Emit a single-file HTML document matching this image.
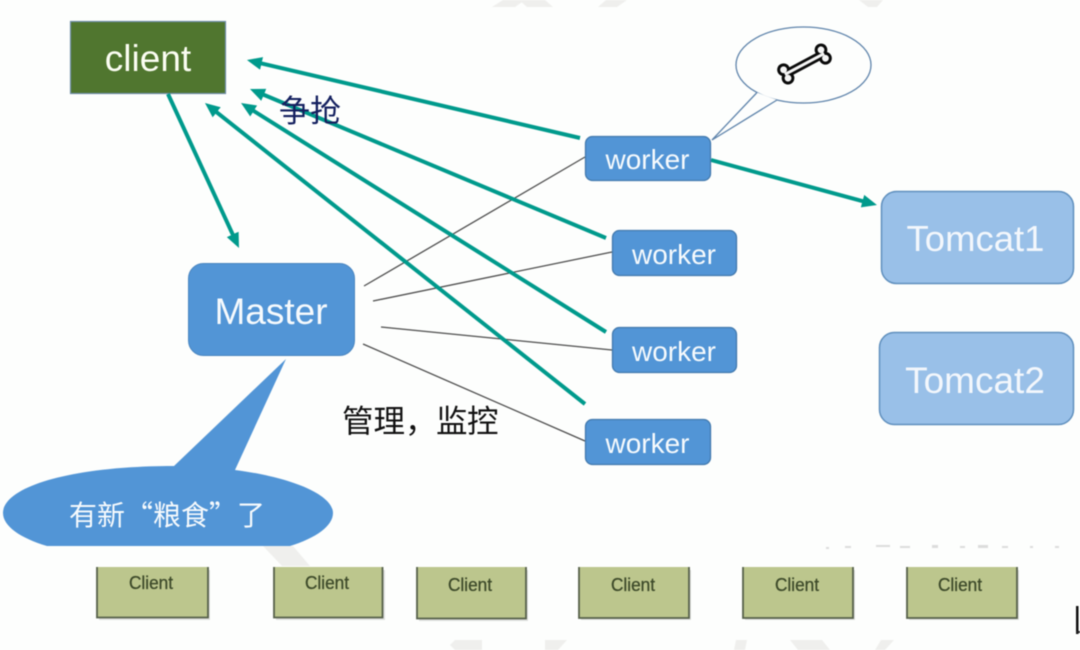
<!DOCTYPE html>
<html><head><meta charset="utf-8"><style>
html,body{margin:0;padding:0;background:#fdfefd;width:1080px;height:650px;overflow:hidden}
svg{display:block}
text{font-family:"Liberation Sans","Noto Sans CJK SC",sans-serif}
text.cjk{font-family:"Noto Sans CJK SC",sans-serif}
</style></head><body>
<svg width="1080" height="650" viewBox="0 0 1080 650" xmlns="http://www.w3.org/2000/svg">
<defs>
<marker id="a" markerUnits="userSpaceOnUse" markerWidth="16" markerHeight="14" refX="5" refY="7" orient="auto"><path d="M0 0.500L15 7L0 13.500z" fill="#009a8c"/></marker>
</defs>
<rect width="1080" height="650" fill="#fdfefd"/>
<g style="filter:blur(.4px)">
<g fill="#efefed">
<path d="M492 7L515 7L525 0L503 0z"/><path d="M527 7L553 7L545 0L519 0z"/>
<path d="M598 7L617 7L627 0L606 0z"/><path d="M868 7L877 7L883 0L859 0z"/>
<path d="M263 546L293 546L310 566L282 566z"/>
<path d="M455 640L482 640L482 650L455 650L450 645z"/>
<path d="M545 640L567 640L558 650L545 650z"/>
<path d="M736 640L747 640L745 650L734 650z"/>
<path d="M790 640L822 640L830 650L798 650z"/>
<path d="M881 640L894 640L885 650L875 650z"/>
</g>
<g stroke="#4d4d4d" stroke-width="1.300" fill="none">
<path d="M364 286L585 157"/><path d="M373 301L612 252"/><path d="M381 327L612 350"/><path d="M363 344L585 441"/>
</g>
<rect x="70.500" y="21.500" width="155" height="72" fill="#50762f" stroke="#6d8da8" stroke-width="1.200"/>
<text x="148" y="71" font-size="37" fill="#fbfdf2" text-anchor="middle">client</text>
<g stroke="#009a8c" stroke-width="4" fill="none" marker-end="url(#a)">
<path d="M168 94L234.800 238.900"/>
<path d="M580 138L256.700 62.300"/>
<path d="M606 238L259.200 92.900"/>
<path d="M606 332L249.500 108.300"/>
<path d="M585 404L212.800 109.200"/>
<path d="M711 160L867.300 202.400"/>
</g>
<rect x="188.500" y="263.500" width="166" height="92" rx="15" fill="#5295d6" stroke="#4a86c0"/>
<text x="271" y="324" font-size="37" fill="#f6fafd" text-anchor="middle">Master</text>
<g fill="#5295d6" stroke="#4279ad" stroke-width="1.300">
<rect x="585.500" y="136.500" width="125" height="44" rx="7"/>
<rect x="612.500" y="230.500" width="124" height="45" rx="7"/>
<rect x="612.500" y="327.500" width="124" height="45" rx="7"/>
<rect x="585.500" y="419.500" width="125" height="45" rx="7"/>
</g>
<g font-size="28" fill="#f6fafd" text-anchor="middle">
<text x="647.500" y="169">worker</text>
<text x="674" y="264">worker</text>
<text x="674" y="361">worker</text>
<text x="647.500" y="453">worker</text>
</g>
<g fill="#99c0e8" stroke="#5f8fbd" stroke-width="1.500">
<rect x="881.500" y="191.500" width="192" height="92" rx="15"/>
<rect x="879.500" y="332.500" width="194" height="92" rx="15"/>
</g>
<text x="975.500" y="251" font-size="36.500" fill="#f3f7fc" text-anchor="middle">Tomcat1</text>
<text x="975" y="393" font-size="37" fill="#f3f7fc" text-anchor="middle">Tomcat2</text>
<ellipse cx="803.500" cy="65" rx="67.500" ry="38" fill="#fdfefd" stroke="#5f84ab" stroke-width="1.300"/>
<path d="M757 92.500L712 140L777 100z" fill="#fdfefd"/>
<path d="M757 92.500L712 140L777 100" fill="none" stroke="#5f84ab" stroke-width="1.300"/>
<g transform="translate(804.500 64) rotate(-28) scale(1.060)">
<g fill="#0a0a0a"><circle cx="-20" cy="-4.500" r="6"/><circle cx="-20" cy="4.500" r="6"/><circle cx="20" cy="-4.500" r="6"/><circle cx="20" cy="4.500" r="6"/><rect x="-20" y="-4" width="40" height="8"/></g>
<g fill="#f6f6f6"><circle cx="-20" cy="-4.500" r="3.200"/><circle cx="-20" cy="4.500" r="3.200"/><circle cx="20" cy="-4.500" r="3.200"/><circle cx="20" cy="4.500" r="3.200"/><rect x="-21" y="-1.400" width="42" height="2.800"/></g>
</g>
<text class="cjk" x="279" y="122" font-size="31" fill="#14205f">争抢</text>
<text class="cjk" x="342 373.500 405 436 467" y="432" font-size="31.500" fill="#111">管理，监控</text>
<path d="M286 359L235 470C296 478 333 496 333 513C333 526 316 538 290 546L47 546C20 538 3 526 3 513C3 487 70 466 174 466z" fill="#5295d6"/>
<text class="cjk" x="69 97 125 153 181 209 237" y="525" font-size="28" fill="#f6fafd">有新“粮食”了</text>
<g fill="#000" opacity=".12">
<rect x="99" y="570" width="111" height="50"/><rect x="276" y="570" width="109" height="50"/><rect x="419" y="570" width="109" height="51"/><rect x="581" y="570" width="110" height="50"/><rect x="745" y="570" width="110" height="50"/><rect x="909" y="570" width="110" height="50"/>
</g>
<g fill="#bcc68d" stroke="#56604a" stroke-width="1.800">
<path d="M97 567V617.500H208V567"/>
<path d="M274 567V617.500H382.500V567"/>
<path d="M417 567V618.500H526V567"/>
<path d="M579 567V618H689V567"/>
<path d="M743 567V618H853V567"/>
<path d="M907 567V618H1017V567"/>
</g>
<g font-size="18" fill="#3d4a2a" stroke="#3d4a2a" stroke-width=".3" text-anchor="middle">
<text x="151" y="589" textLength="44" lengthAdjust="spacingAndGlyphs">Client</text>
<text x="327" y="589" textLength="44" lengthAdjust="spacingAndGlyphs">Client</text>
<text x="470" y="591" textLength="44" lengthAdjust="spacingAndGlyphs">Client</text>
<text x="633" y="591" textLength="44" lengthAdjust="spacingAndGlyphs">Client</text>
<text x="797" y="591" textLength="44" lengthAdjust="spacingAndGlyphs">Client</text>
<text x="960" y="591" textLength="44" lengthAdjust="spacingAndGlyphs">Client</text>
</g>
<rect x="1076" y="606" width="2.500" height="28" fill="#111"/><rect x="1076" y="631" width="4" height="2" fill="#222"/>
<g fill="#dcdcdc">
<rect x="826" y="547" width="3" height="2"/><rect x="845" y="546" width="6" height="2"/><rect x="876" y="545" width="14" height="2"/><rect x="900" y="546" width="10" height="2"/><rect x="932" y="545" width="6" height="3"/><rect x="960" y="546" width="5" height="2"/><rect x="978" y="545" width="10" height="3"/><rect x="1002" y="546" width="6" height="2"/><rect x="1030" y="546" width="3" height="2"/><rect x="1055" y="546" width="4" height="2"/>
</g>
</g>
</svg>
</body></html>
